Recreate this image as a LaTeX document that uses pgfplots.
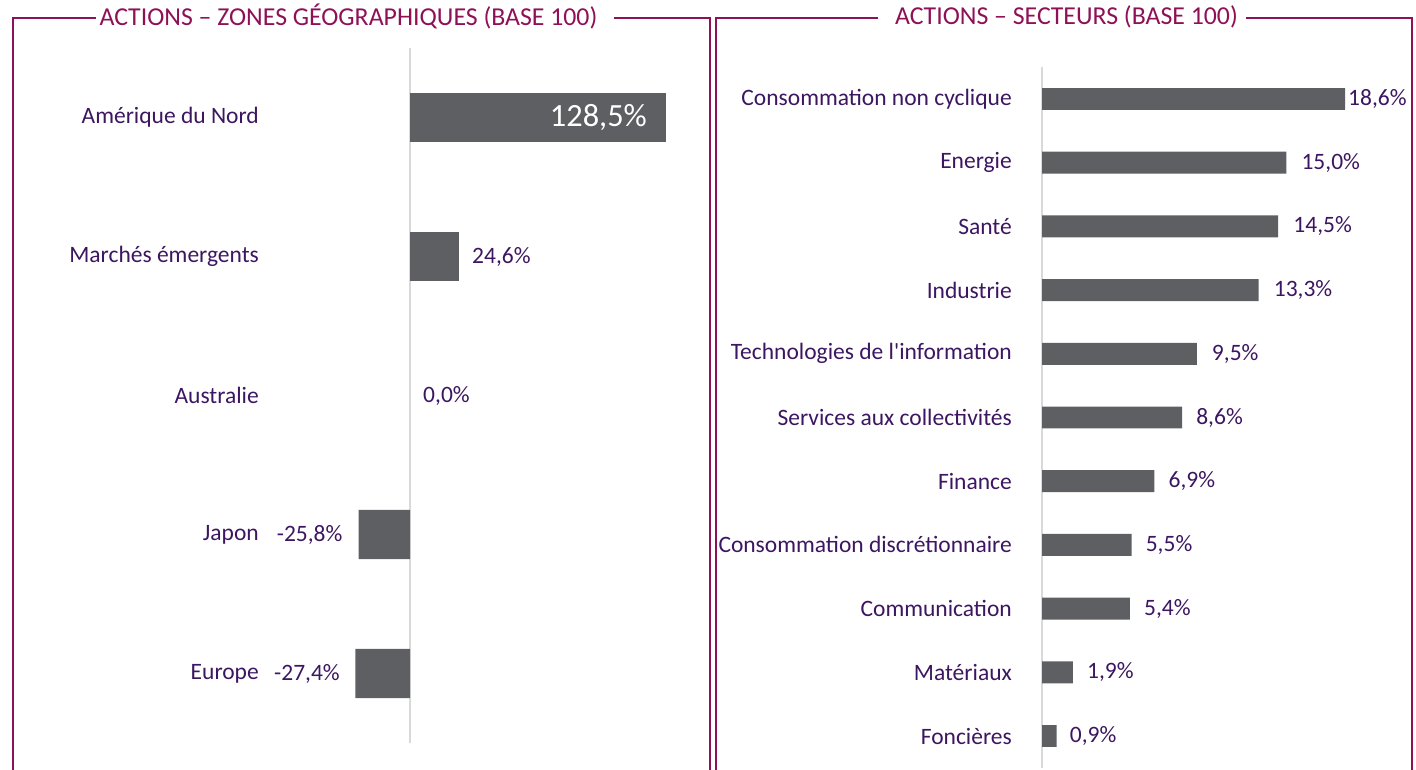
\documentclass[border=0pt]{standalone}
\usepackage{pgfplots}
\pgfplotsset{compat=1.18}
\usepackage{pgfplotstable}
\usepackage{fontspec}
\setmainfont{Carlito}[Ligatures=TeXOff]
\definecolor{framec}{HTML}{8E1157}
\definecolor{txt}{HTML}{3C1660}
\definecolor{barc}{HTML}{5D5F63}
\definecolor{axisg}{HTML}{D9D9D9}

\pgfplotstableread{
y v lab sh
1 24.6 24,6 13
}\geoP
\pgfplotstableread{
y v lab sh
2 0.0 0,0 13
}\geoZ
\pgfplotstableread{
y v lab sh
3 -25.8 -25,8 -16
4 -27.4 -27,4 -15.5
}\geoN
\pgfplotstableread{
y v lab
0 128.5 128,5
}\geoA
\pgfplotstableread{
y v lab sh
0 18.6 18,6 3
1 15.0 15,0 15
2 14.5 14,5 15
3 13.3 13,3 15
4 9.5 9,5 15
5 8.6 8,6 14
6 6.9 6,9 14
7 5.5 5,5 14
8 5.4 5,4 14
9 1.9 1,9 14
10 0.9 0,9 13
}\sect

\newcommand{\lblfont}{\fontsize{23.5}{26}\selectfont}
\newcommand{\ttlfont}{\fontsize{25.8}{29}\selectfont}

\begin{document}
\begin{tikzpicture}
\useasboundingbox (0,0) rectangle (1416pt,769pt);

% frames
\draw[framec, line width=2.2pt] (96pt,751pt) -- (13pt,751pt) -- (13pt,-10pt);
\draw[framec, line width=2.2pt] (614pt,751pt) -- (710pt,751pt) -- (710pt,-10pt);
\draw[framec, line width=2.2pt] (878pt,751pt) -- (716pt,751pt) -- (716pt,-10pt);
\draw[framec, line width=2.2pt] (1246pt,751pt) -- (1412pt,751pt) -- (1412pt,-10pt);
\node[text=framec, font=\ttlfont, inner sep=0pt] at (348.5pt,752pt) {ACTIONS – ZONES GÉOGRAPHIQUES (BASE 100)};
\node[text=framec, font=\ttlfont, inner sep=0pt] at (1066.5pt,752pt) {ACTIONS – SECTEURS (BASE 100)};

\begin{axis}[
  at={(262pt,721pt)}, anchor=north west,
  scale only axis, width=438.1pt, height=695pt,
  xmin=-74.3, xmax=145.6, ymin=-0.5, ymax=4.5, y dir=reverse,
  xbar, bar width=0.353,
  axis line style={draw=none},
  xtick=\empty, ytick={0,...,4},
  yticklabels={Amérique du Nord, Marchés émergents, Australie, Japon, Europe},
  major tick length=0pt,
  yticklabel style={font=\lblfont, text=txt, anchor=east, inner sep=0pt, xshift=-3pt},
  extra x ticks={0}, extra x tick labels={},
  extra x tick style={grid=major, major grid style={draw=axisg, line width=1.3pt}},
  clip=false,
]
\addplot[fill=barc, draw=none, bar shift=0pt, point meta=explicit symbolic,
  visualization depends on={\thisrow{sh} \as \myshift},
  nodes near coords={\pgfplotspointmeta\%},
  nodes near coords style={font=\lblfont, text=txt, inner sep=0pt, anchor=west, xshift=\myshift pt}]
  table[x=v, y=y, meta=lab]{\geoP};
\addplot[fill=none, draw=none, bar shift=0pt, point meta=explicit symbolic,
  visualization depends on={\thisrow{sh} \as \myshift},
  nodes near coords={\pgfplotspointmeta\%},
  nodes near coords style={font=\lblfont, text=txt, inner sep=0pt, anchor=west, xshift=\myshift pt}]
  table[x=v, y=y, meta=lab]{\geoZ};
\addplot[fill=barc, draw=none, bar shift=0pt, point meta=explicit symbolic,
  visualization depends on={\thisrow{sh} \as \myshift},
  nodes near coords={\pgfplotspointmeta\%},
  nodes near coords style={font=\lblfont, text=txt, inner sep=0pt, anchor=east, xshift=\myshift pt}]
  table[x=v, y=y, meta=lab]{\geoN};
\addplot[fill=barc, draw=none, bar shift=0pt, point meta=explicit symbolic,
  nodes near coords={\pgfplotspointmeta\%},
  nodes near coords style={font=\fontsize{32.4}{36}\selectfont, text=white, anchor=east, inner sep=0pt, xshift=-19pt}]
  table[x=v, y=y, meta=lab]{\geoA};
\end{axis}

\begin{axis}[
  at={(1042pt,701.85pt)}, anchor=north west,
  scale only axis, width=358.4pt, height=700.7pt,
  xmin=0, xmax=22, ymin=-0.5, ymax=10.5, y dir=reverse,
  xbar, bar width=0.345,
  axis line style={draw=none},
  xtick=\empty, ytick={0,...,10},
  yticklabels={Consommation non cyclique, Energie, Santé, Industrie, Technologies de l'information, Services aux collectivités, Finance, Consommation discrétionnaire, Communication, Matériaux, Foncières},
  major tick length=0pt,
  yticklabel style={font=\lblfont, text=txt, anchor=east, inner sep=0pt, xshift=-30pt},
  extra x ticks={0}, extra x tick labels={},
  extra x tick style={grid=major, major grid style={draw=axisg, line width=1.3pt}},
  clip=false,
]
\addplot[fill=barc, draw=none, bar shift=0pt, point meta=explicit symbolic,
  visualization depends on={\thisrow{sh} \as \myshift},
  nodes near coords={\pgfplotspointmeta\%},
  nodes near coords style={font=\lblfont, text=txt, inner sep=0pt, anchor=west, xshift=\myshift pt}]
  table[x=v, y=y, meta=lab]{\sect};
\end{axis}
\end{tikzpicture}
\end{document}
